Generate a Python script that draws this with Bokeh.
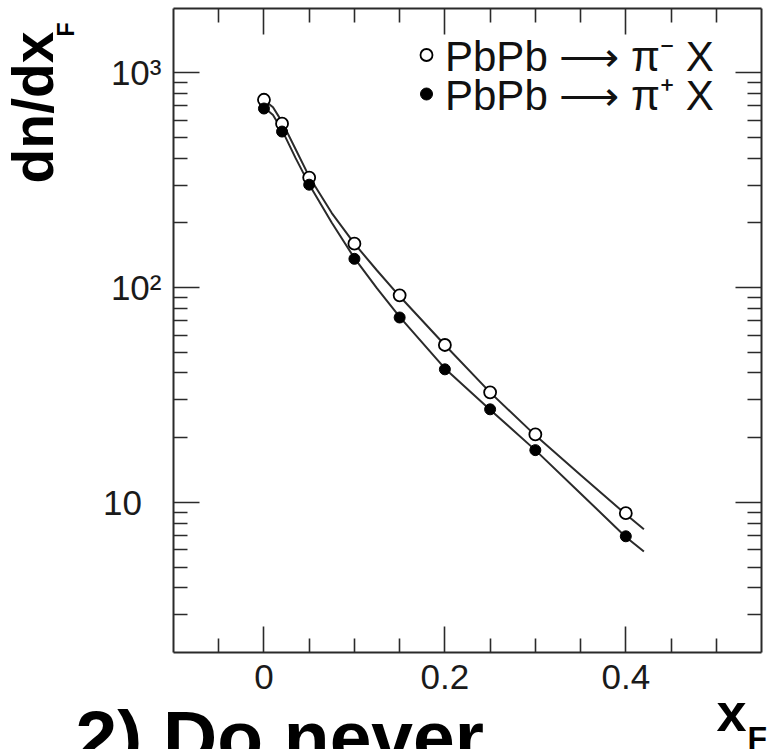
import math
from bokeh.plotting import figure
from bokeh.models import (FixedTicker, LinearAxis, LogAxis, Label, Legend, LegendItem,
                          CustomJSTickFormatter, Range1d)
from bokeh.core.properties import value
from bokeh.embed import file_html
from bokeh.resources import INLINE

# ---------------- data ----------------
xf_points = [0.0, 0.02, 0.05, 0.10, 0.15, 0.20, 0.25, 0.30, 0.40]
pim_points = [748, 579, 325, 160, 92, 54, 32.5, 20.7, 8.9]      # PbPb -> pi- X (open)
pip_points = [681, 532, 301, 136, 72.5, 41.6, 27.1, 17.5, 6.95]  # PbPb -> pi+ X (filled)

fit_x = [0.0, 0.01, 0.02, 0.035, 0.05, 0.075, 0.10, 0.125, 0.15, 0.20, 0.25, 0.30, 0.35, 0.40, 0.42]
fit_pim = [745, 690, 590, 440, 328, 222, 160, 120, 91, 54, 32.5, 20.5, 13.4, 8.8, 7.5]
fit_pip = [690, 635, 540, 400, 302, 200, 137, 99, 73, 42, 27, 17.5, 11, 6.9, 5.9]

x_bounds = (-0.1, 0.55)
y_bounds = (2, 2000)
x_major = [0.0, 0.2, 0.4]
x_minor = [-0.05, 0.05, 0.1, 0.15, 0.25, 0.3, 0.35, 0.45, 0.5]
y_major = [10, 100, 1000]
y_minor = [3, 4, 5, 6, 7, 8, 9, 20, 30, 40, 50, 60, 70, 80, 90,
           200, 300, 400, 500, 600, 700, 800, 900]
y_labels = {10: "10\u2007", 100: "10\u00b2", 1000: "10\u00b3"}

label_minus = "PbPb \u27f6 \u03c0\u207b X"
label_plus = "PbPb \u27f6 \u03c0\u207a X"

FONT = "Liberation Sans"
DARK = "#2a2a2a"

W, H = 772, 749
# frame box (the axes) occupies pixels 173..761 horizontally and 7.5..652 vertically
px_x = (761 - 173) / (x_bounds[1] - x_bounds[0])
px_dec = (652 - 7.5) / math.log10(y_bounds[1] / y_bounds[0])
x_start = x_bounds[0] - 173 / px_x
x_end = x_bounds[1] + (W - 761) / px_x
y_end = y_bounds[1] * 10 ** (7.5 / px_dec)
y_start = y_bounds[0] / 10 ** ((H - 652) / px_dec)

p = figure(width=W, height=H, x_range=Range1d(x_start, x_end), y_range=Range1d(y_start, y_end),
           y_axis_type="log", output_backend="svg", toolbar_location=None,
           min_border_left=0, min_border_right=0, min_border_top=0, min_border_bottom=0)
p.grid.visible = False
p.outline_line_color = None
p.background_fill_color = "white"
p.border_fill_color = "white"


def style(ax, xt):
    if xt:
        ax.ticker = FixedTicker(ticks=x_major, minor_ticks=x_minor)
        ax.bounds = x_bounds
    else:
        ax.ticker = FixedTicker(ticks=y_major, minor_ticks=y_minor)
        ax.bounds = y_bounds
    ax.axis_line_color = DARK
    ax.axis_line_width = 2
    ax.major_tick_in = 26
    ax.major_tick_out = 0
    ax.minor_tick_in = 14
    ax.minor_tick_out = 0
    ax.major_tick_line_color = DARK
    ax.major_tick_line_width = 1.6
    ax.minor_tick_line_color = DARK
    ax.minor_tick_line_width = 1.6
    ax.major_label_text_font = FONT
    ax.major_label_text_font_size = "35px"
    ax.major_label_text_color = "#1a1a1a"


bx = p.xaxis[0]
style(bx, True)
bx.fixed_location = y_bounds[0]
bx.major_label_standoff = 12

ly = p.yaxis[0]
style(ly, False)
ly.fixed_location = x_bounds[0]
ly.major_label_overrides = y_labels
ly.major_label_standoff = 12

blank = "return ''"
top = LinearAxis(formatter=CustomJSTickFormatter(code=blank))
style(top, True)
top.fixed_location = y_bounds[1]
top.major_label_standoff = 0
top.major_label_text_font_size = "1px"
p.add_layout(top, "above")

right = LogAxis(formatter=CustomJSTickFormatter(code=blank))
style(right, False)
right.fixed_location = x_bounds[1]
right.major_label_standoff = 0
right.major_label_text_font_size = "1px"
p.add_layout(right, "right")

# fitted curves
p.line(fit_x, fit_pim, line_color=DARK, line_width=2)
p.line(fit_x, fit_pip, line_color=DARK, line_width=2)

# points
r_open = p.scatter(xf_points, pim_points, marker="circle", size=12,
                   fill_color="white", line_color="black", line_width=1.8)
r_fill = p.scatter(xf_points, pip_points, marker="circle", size=11,
                   fill_color="black", line_color="black", line_width=1)

# legends (one item each)
for lab, rend, vy in [(label_minus, r_open, 666), (label_plus, r_fill, 627)]:
    leg = Legend(items=[LegendItem(label=value(lab), renderers=[rend])], location=(411, vy))
    leg.label_text_font = FONT
    leg.label_text_font_size = "42px"
    leg.label_text_color = "#111111"
    leg.glyph_width = 30
    leg.glyph_height = 47
    leg.label_standoff = 4
    leg.padding = 0
    leg.margin = 0
    leg.spacing = 0
    leg.border_line_color = None
    leg.background_fill_alpha = 0
    p.add_layout(leg)


def text(x, y, s, size, angle=0.0):
    p.add_layout(Label(x=x, y=y, x_units="screen", y_units="screen", text=s, angle=angle,
                       text_font=FONT, text_font_style="bold", text_font_size=size,
                       text_align="left", text_baseline="alphabetic", text_color="black"))


# axis titles and overlay text
text(32, 566, "dn/dx", "57px", math.pi / 2)
text(65, 713, "F", "23px", math.pi / 2)
text(716, 38, "x", "54px")
text(747, 12, "F", "32px")
text(75, 13, "2) Do never", "75px")

open("out.html", "w").write(file_html(p, INLINE))
